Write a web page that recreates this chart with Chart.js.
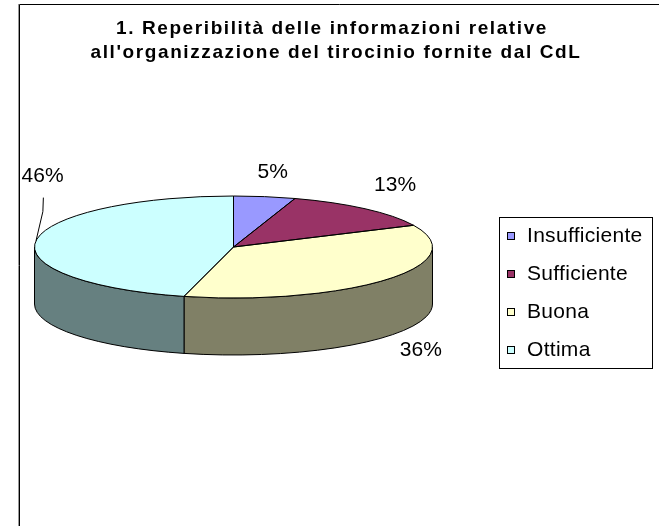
<!DOCTYPE html>
<html><head><meta charset="utf-8">
<script src="https://cdn.jsdelivr.net/npm/chart.js@4.4.1/dist/chart.umd.min.js"></script>
<style>html,body{margin:0;padding:0;background:#fff;overflow:hidden}</style>
</head><body>
<canvas id="c" width="659" height="526"></canvas>
<script>
// ---- data ----
const titleLines = ["1. Reperibilità delle informazioni relative", "all'organizzazione del tirocinio fornite dal CdL"];
const categories = ['Insufficiente', 'Sufficiente', 'Buona', 'Ottima'];
const percentages = [5, 13, 36, 46];

// ---- style ----
const topColors = ['#9999FF', '#993366', '#FFFFCC', '#CCFFFF'];
const sideColors = ['#4D4D80', '#4D1A33', '#808066', '#668080'];
const FONT = "'Liberation Sans', Arial, sans-serif";
const TILT = 51 / 199;
const DEPTH = 57;
const labelOffsets = [[8, -24], [30, -24], [34, 14], [6.5, -64]];
const leaderLine = [false, false, false, true];

function geom(chart) {
  return chart.getDatasetMeta(0).data.map(a =>
    a.getProps(['x', 'y', 'startAngle', 'endAngle', 'outerRadius'], true));
}
function frontIntervals(s, e) {
  const out = [];
  for (let n = -1; n <= 2; n++) {
    const lo = Math.max(s, n * 2 * Math.PI), hi = Math.min(e, n * 2 * Math.PI + Math.PI);
    if (hi > lo) out.push([lo, hi]);
  }
  return out;
}

const pie3d = {
  id: 'pie3d',
  beforeDatasetsDraw(chart) {
    const ctx = chart.ctx, g = geom(chart);
    ctx.save();
    ctx.lineWidth = 1; ctx.strokeStyle = '#000'; ctx.lineJoin = 'round';
    g.forEach((a, i) => {
      frontIntervals(a.startAngle, a.endAngle).forEach(([lo, hi]) => {
        const r = a.outerRadius;
        ctx.beginPath();
        ctx.ellipse(a.x, a.y, r, r * TILT, 0, lo, hi);
        ctx.ellipse(a.x, a.y + DEPTH, r, r * TILT, 0, hi, lo, true);
        ctx.closePath();
        ctx.fillStyle = sideColors[i];
        ctx.fill(); ctx.stroke();
      });
    });
    ctx.restore();
    const cx = g[0].x, cy = g[0].y;
    ctx.save();
    ctx.translate(cx, cy); ctx.scale(1, TILT); ctx.translate(-cx, -cy);
  },
  afterDatasetsDraw(chart) {
    const ctx = chart.ctx;
    ctx.restore();
    const g = geom(chart);
    ctx.save();
    ctx.lineWidth = 1; ctx.strokeStyle = '#000'; ctx.lineJoin = 'round';
    g.forEach(a => {
      const r = a.outerRadius;
      ctx.beginPath();
      ctx.moveTo(a.x, a.y);
      ctx.ellipse(a.x, a.y, r, r * TILT, 0, a.startAngle, a.endAngle);
      ctx.closePath();
      ctx.stroke();
    });
    // percentage labels
    ctx.font = '21px ' + FONT;
    ctx.fillStyle = '#000';
    ctx.textAlign = 'center'; ctx.textBaseline = 'middle';
    g.forEach((a, i) => {
      const mid = (a.startAngle + a.endAngle) / 2, r = a.outerRadius;
      const s = Math.sin(mid);
      const ax = a.x + r * Math.cos(mid);
      const ay = a.y + r * TILT * s + (s > 0 ? DEPTH : 0);
      const lx = ax + labelOffsets[i][0], ly = ay + labelOffsets[i][1];
      ctx.fillText(percentages[i] + '%', lx, ly);
      if (leaderLine[i]) {
        ctx.beginPath();
        ctx.moveTo(ax, ay);
        ctx.lineTo(lx + 0.3, ly + 35);
        ctx.lineTo(lx + 0.8, ly + 21);
        ctx.stroke();
      }
    });
    ctx.restore();
  },
  afterDraw(chart) {
    const ctx = chart.ctx;
    ctx.save();
    // frame
    ctx.strokeStyle = '#999'; ctx.lineWidth = 1;
    ctx.beginPath(); ctx.moveTo(18.5, 4); ctx.lineTo(18.5, 530); ctx.stroke();
    ctx.strokeStyle = '#000';
    ctx.beginPath(); ctx.moveTo(19.5, 530); ctx.lineTo(19.5, 4.5); ctx.lineTo(670, 4.5); ctx.stroke();
    // title
    ctx.fillStyle = '#000';
    ctx.font = 'bold 19px ' + FONT;
    ctx.letterSpacing = '1.6px';
    ctx.textAlign = 'center'; ctx.textBaseline = 'alphabetic';
    ctx.fillText(titleLines[0], 332, 34);
    ctx.fillText(titleLines[1], 336, 58);
    ctx.letterSpacing = '0px';
    // legend
    ctx.strokeStyle = '#000'; ctx.lineWidth = 1;
    ctx.strokeRect(499.5, 217.5, 153, 151);
    ctx.font = '21px ' + FONT;
    ctx.letterSpacing = '0.3px';
    ctx.textAlign = 'left'; ctx.textBaseline = 'middle';
    categories.forEach((c, i) => {
      const y = 236 + i * 38;
      ctx.fillStyle = topColors[i];
      ctx.fillRect(507, y - 4, 8, 8);
      ctx.strokeRect(507.5, y - 3.5, 7, 7);
      ctx.fillStyle = '#000';
      ctx.fillText(c, 527, y);
    });
    ctx.restore();
  }
};

new Chart(document.getElementById('c'), {
  type: 'pie',
  data: {
    labels: categories,
    datasets: [{
      data: percentages,
      backgroundColor: topColors,
      borderWidth: 0,
      hoverBorderWidth: 0,
      hoverOffset: 0,
      radius: 199,
      clip: false
    }]
  },
  options: {
    responsive: false,
    devicePixelRatio: 1,
    animation: false,
    events: [],
    layout: { padding: { left: 0, right: 192, top: 0, bottom: 32 } },
    plugins: { legend: { display: false }, title: { display: false }, tooltip: { enabled: false } }
  },
  plugins: [pie3d]
});
</script>
</body></html>
